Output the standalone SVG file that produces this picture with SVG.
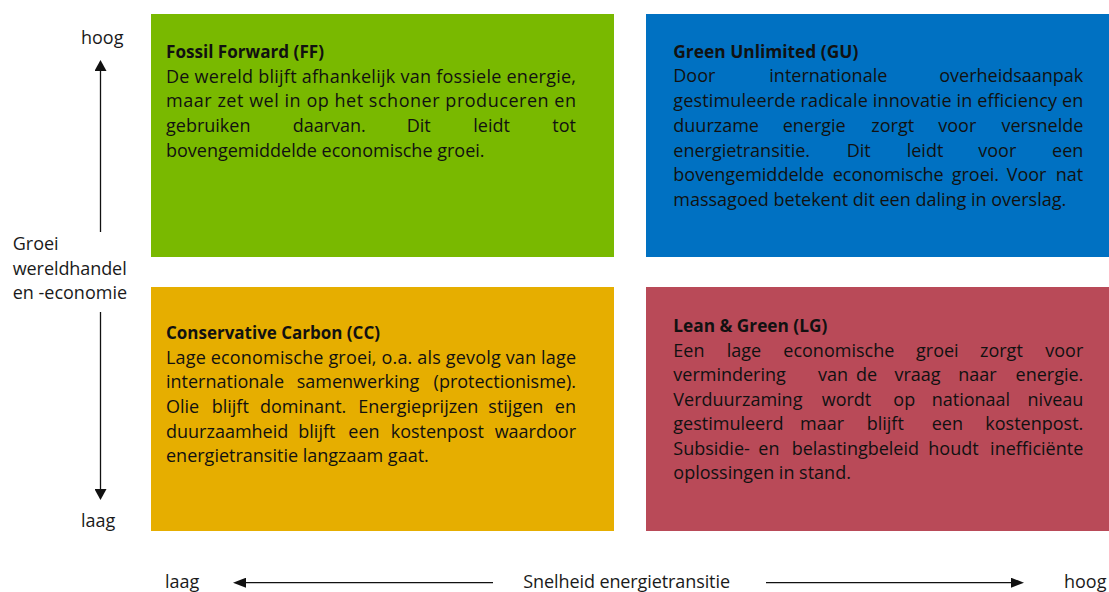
<svg xmlns="http://www.w3.org/2000/svg" width="1109" height="592" viewBox="0 0 1109 592">
  <defs>
    <style>
      text { font-family: "Open Sans", "Noto Sans", "Liberation Sans", sans-serif; font-size: 18px; fill: #111; }
      .title { font-weight: bold; }
      .axis { font-size: 18px; fill: #1a1a1a; }
      .end { text-anchor: end; }
      .conn { stroke: #111; stroke-width: 1.3; fill: none; }
    </style>
    <marker id="headV" markerUnits="userSpaceOnUse" markerWidth="11" markerHeight="12" refX="0" refY="6" orient="auto">
      <path d="M0,0 L11,6 L0,12 z" fill="#111"/>
    </marker>
    <marker id="headH" markerUnits="userSpaceOnUse" markerWidth="13" markerHeight="10" refX="0" refY="5" orient="auto">
      <path d="M0,0 L13,5 L0,10 z" fill="#111"/>
    </marker>
  </defs>

  <rect width="1109" height="592" fill="#ffffff"/>

  <!-- Fossil Forward quadrant -->
  <g id="node-ff">
    <rect x="151" y="14" width="463" height="243" fill="#79b900"/>
    <text class="title" x="166" y="57.5" textLength="158" lengthAdjust="spacingAndGlyphs">Fossil Forward (FF)</text>
    <text x="166" y="82.5" textLength="410" lengthAdjust="spacing">De wereld blijft afhankelijk van fossiele energie,</text>
    <text x="166" y="107.3" textLength="410" lengthAdjust="spacing">maar zet wel in op het schoner produceren en</text>
    <text y="132"><tspan x="166">gebruiken</tspan><tspan x="292.7">daarvan.</tspan><tspan x="406.7">Dit</tspan><tspan x="473.3">leidt</tspan><tspan x="576" class="end">tot</tspan></text>
    <text x="166" y="156.8">bovengemiddelde economische groei.</text>
  </g>

  <!-- Green Unlimited quadrant -->
  <g id="node-gu">
    <rect x="646" y="14" width="463" height="243" fill="#0071c2"/>
    <text class="title" x="673.3" y="57.5" textLength="185" lengthAdjust="spacingAndGlyphs">Green Unlimited (GU)</text>
    <text y="82.3"><tspan x="673.3">Door</tspan><tspan x="769.3">internationale</tspan><tspan x="1083.3" class="end">overheidsaanpak</tspan></text>
    <text x="673.3" y="107" textLength="410" lengthAdjust="spacing">gestimuleerde radicale innovatie in efficiency en</text>
    <text y="131.8"><tspan x="673.3">duurzame</tspan><tspan x="782.7">energie</tspan><tspan x="871.3">zorgt</tspan><tspan x="938.3">voor</tspan><tspan x="1083.3" class="end">versnelde</tspan></text>
    <text y="156.5"><tspan x="673.3">energietransitie.</tspan><tspan x="846.7">Dit</tspan><tspan x="906.7">leidt</tspan><tspan x="978.3">voor</tspan><tspan x="1083.3" class="end">een</tspan></text>
    <text y="181.3"><tspan x="673.3">bovengemiddelde</tspan><tspan x="832.7">economische</tspan><tspan x="951.7">groei.</tspan><tspan x="1006.7">Voor</tspan><tspan x="1083.3" class="end">nat</tspan></text>
    <text x="673.3" y="206">massagoed betekent dit een daling in overslag.</text>
  </g>

  <!-- Conservative Carbon quadrant -->
  <g id="node-cc">
    <rect x="151" y="287" width="463" height="244" fill="#e6ae00"/>
    <text class="title" x="166" y="339.3" textLength="214" lengthAdjust="spacingAndGlyphs">Conservative Carbon (CC)</text>
    <text x="166" y="363.8" textLength="410" lengthAdjust="spacing">Lage economische groei, o.a. als gevolg van lage</text>
    <text y="388.4"><tspan x="166">internationale</tspan><tspan x="296.7">samenwerking</tspan><tspan x="576" class="end">(protectionisme).</tspan></text>
    <text y="413"><tspan x="166">Olie</tspan><tspan x="211.7">blijft</tspan><tspan x="260">dominant.</tspan><tspan x="358.3">Energieprijzen</tspan><tspan x="488.3">stijgen</tspan><tspan x="576" class="end">en</tspan></text>
    <text y="437.6"><tspan x="166">duurzaamheid</tspan><tspan x="298.3">blijft</tspan><tspan x="348.3">een</tspan><tspan x="390.7">kostenpost</tspan><tspan x="576" class="end">waardoor</tspan></text>
    <text x="166" y="462.2">energietransitie langzaam gaat.</text>
  </g>

  <!-- Lean & Green quadrant -->
  <g id="node-lg">
    <rect x="646" y="287" width="463" height="244" fill="#b94a58"/>
    <text class="title" x="673.3" y="332.3" textLength="154" lengthAdjust="spacingAndGlyphs">Lean &amp; Green (LG)</text>
    <text y="356.8"><tspan x="673.3">Een</tspan><tspan x="726.7">lage</tspan><tspan x="783.3">economische</tspan><tspan x="916">groei</tspan><tspan x="980">zorgt</tspan><tspan x="1083.3" class="end">voor</tspan></text>
    <text y="381.3"><tspan x="673.3">vermindering</tspan><tspan x="818">van</tspan><tspan x="856">de</tspan><tspan x="894.5">vraag</tspan><tspan x="958.3">naar</tspan><tspan x="1083.3" class="end">energie.</tspan></text>
    <text y="405.8"><tspan x="673.3">Verduurzaming</tspan><tspan x="821.7">wordt</tspan><tspan x="893.3">op</tspan><tspan x="931.7">nationaal</tspan><tspan x="1083.3" class="end">niveau</tspan></text>
    <text y="430.3"><tspan x="673.3">gestimuleerd</tspan><tspan x="800">maar</tspan><tspan x="866.7">blijft</tspan><tspan x="931.7">een</tspan><tspan x="1083.3" class="end">kostenpost.</tspan></text>
    <text y="454.8"><tspan x="673.3">Subsidie-</tspan><tspan x="758.3">en</tspan><tspan x="791.7">belastingbeleid</tspan><tspan x="928.3">houdt</tspan><tspan x="1083.3" class="end">inefficiënte</tspan></text>
    <text x="673.3" y="479.3">oplossingen in stand.</text>
  </g>

  <!-- Vertical axis labels -->
  <g id="axis-y">
    <text class="axis" x="81" y="43.5">hoog</text>
    <text class="axis" x="12.7" y="250">Groei</text>
    <text class="axis" x="12.7" y="274.5" textLength="114" lengthAdjust="spacing">wereldhandel</text>
    <text class="axis" x="12.7" y="299">en -economie</text>
    <text class="axis" x="81" y="527">laag</text>
  </g>

  <!-- Horizontal axis labels -->
  <g id="axis-x">
    <text class="axis" x="165" y="588">laag</text>
    <text class="axis" x="523.3" y="588" textLength="206.7" lengthAdjust="spacing">Snelheid energietransitie</text>
    <text class="axis" x="1064" y="588">hoog</text>
  </g>

  <!-- Axis arrows -->
  <g id="connectors">
    <line class="conn" x1="100.5" y1="232" x2="100.5" y2="71" marker-end="url(#headV)"/>
    <line class="conn" x1="100.5" y1="312" x2="100.5" y2="489" marker-end="url(#headV)"/>
    <line class="conn" x1="493" y1="582.7" x2="246" y2="582.7" marker-end="url(#headH)"/>
    <line class="conn" x1="766" y1="582.7" x2="1011" y2="582.7" marker-end="url(#headH)"/>
  </g>
</svg>
